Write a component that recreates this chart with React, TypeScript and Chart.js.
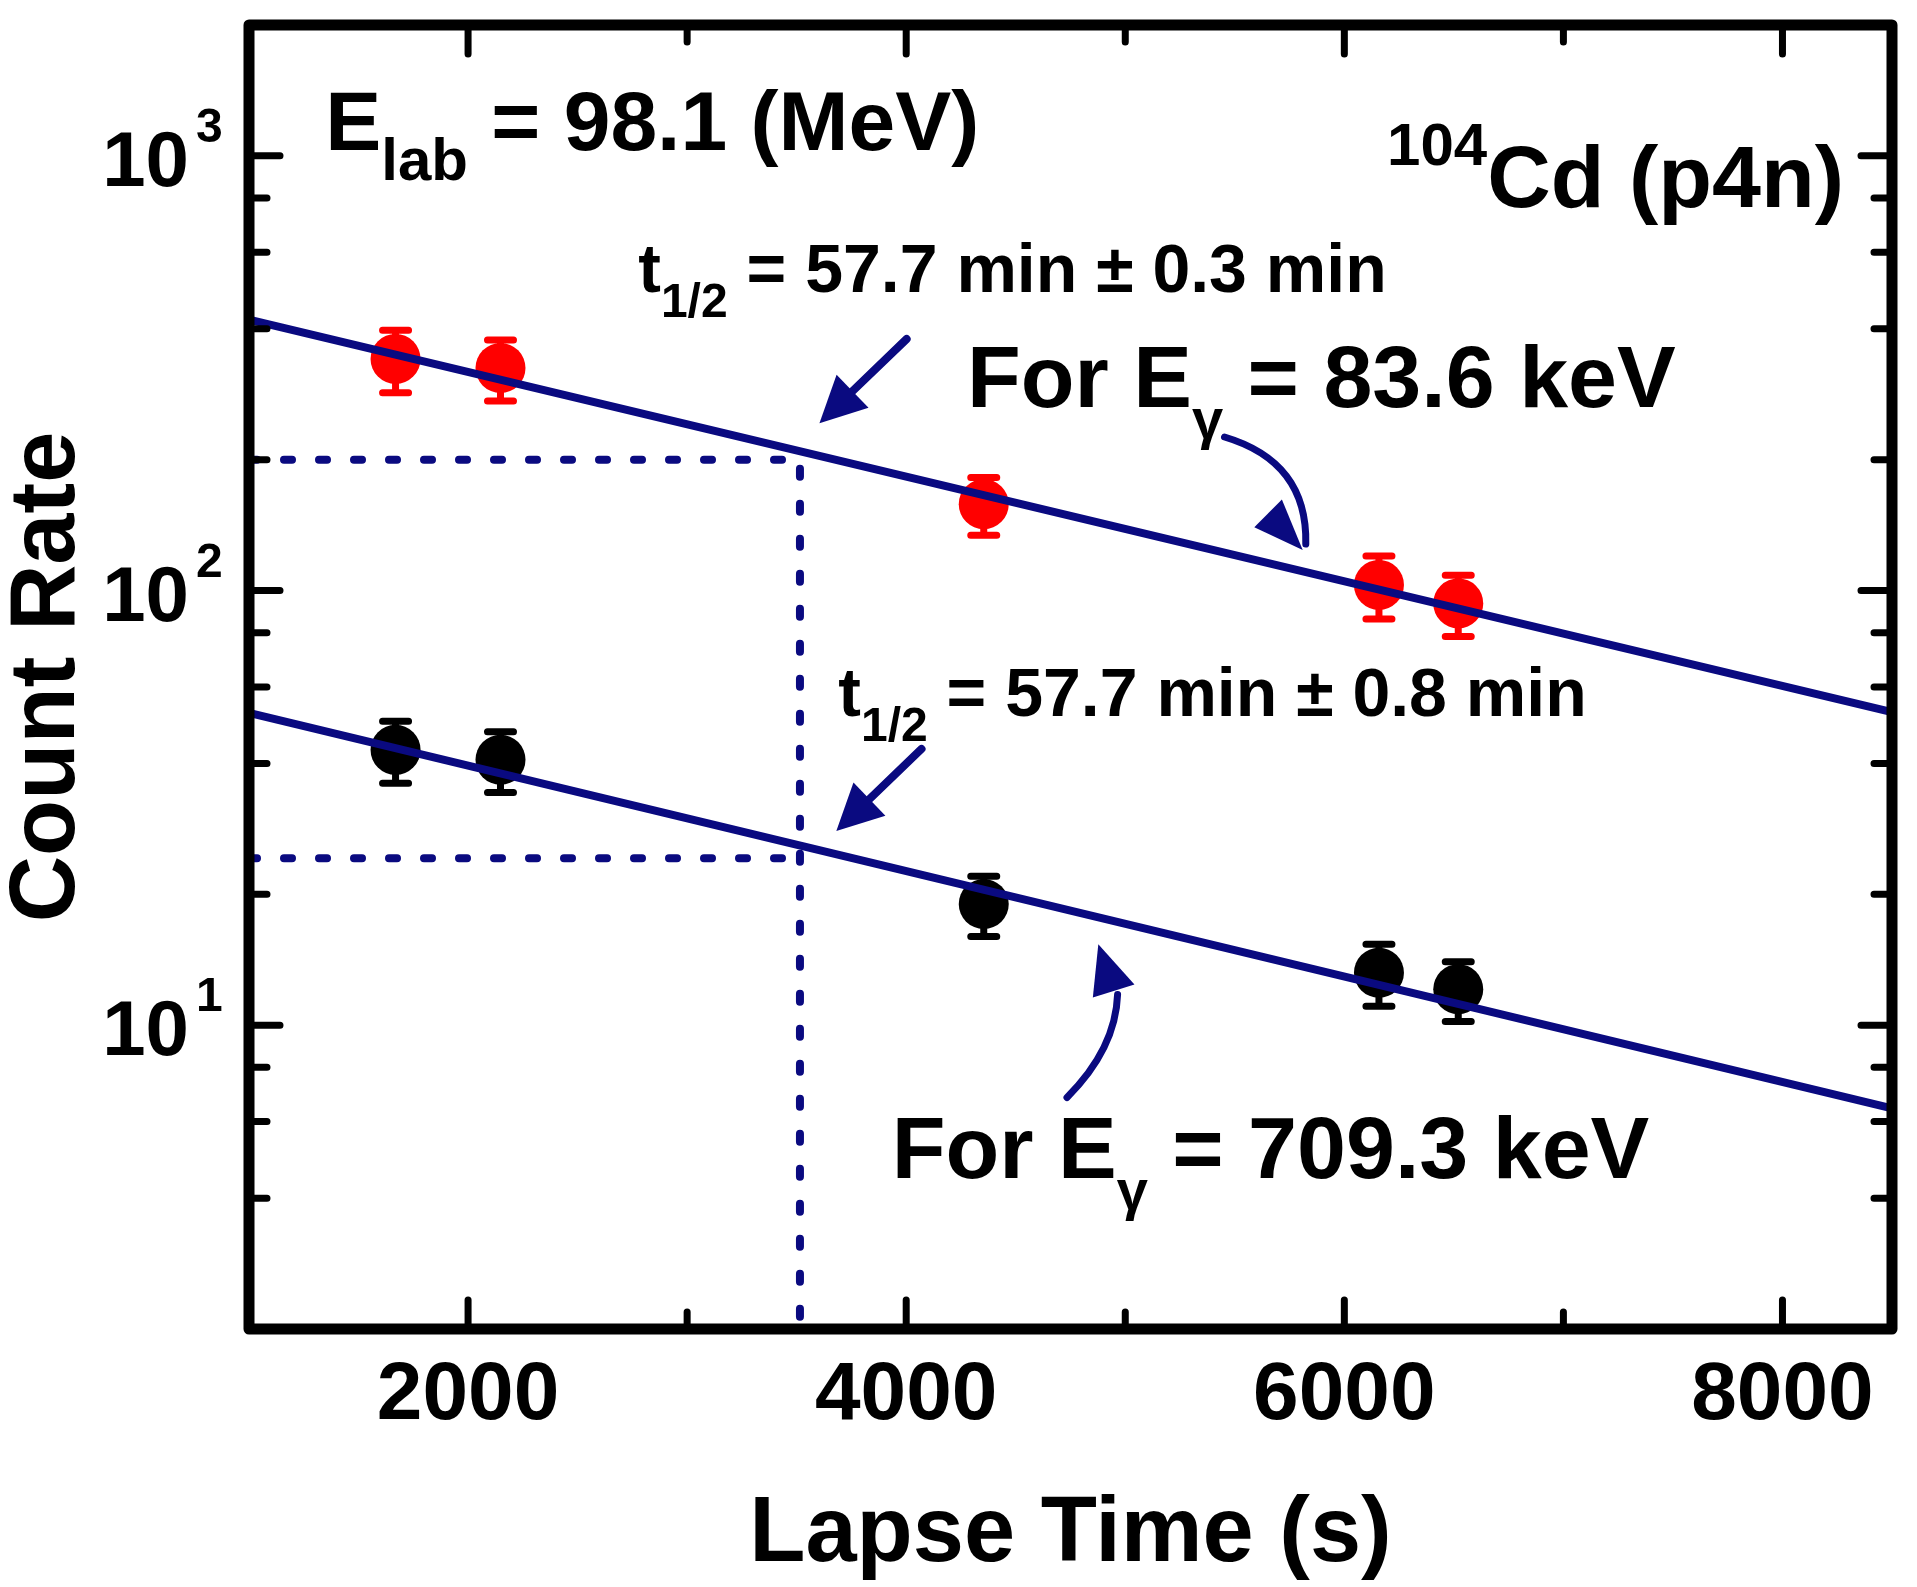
import { useEffect, useRef } from "react";
import { Chart, registerables } from "chart.js";

Chart.register(...registerables);

// lapse time of each measurement (s)
const times = [1669, 2148, 4354, 6158, 6520];
// count rate for E_gamma = 83.6 keV (red) with errors
const rate836 = [341, 325, 158, 103, 93.4];
const err836 = [56, 52, 24, 17, 15];
// count rate for E_gamma = 709.3 keV (black) with errors
const rate709 = [43, 40.8, 19, 13.2, 12.1];
const err709 = [7, 6.5, 3, 2.15, 1.9];

// fitted decay lines (ends at the axis limits)
const fitTimes = [1000, 8500];
const fit836 = [420, 52.5];
const fit709 = [52.3, 6.44];

// half-life guide lines
const halfTime = 3515;
const halfRate836 = 200;
const halfRate709 = 24.2;

const xMin = 1000;
const xMax = 8500;
const yMin = 2;
const yMax = 2000;
const xMajor = [2000, 4000, 6000, 8000];
const xMinor = [3000, 5000, 7000];
const yMajor = [10, 100, 1000];
const yExp = ["1", "2", "3"];
const yMinor = [4, 6, 8, 20, 40, 60, 80, 200, 400, 600, 800];

const W = 1917;
const H = 1587;
const NAVY = "#0a0a80";
const FONT = '"Liberation Sans", Arial, sans-serif';

// annotation arrows, in data coordinates
const straightArrows = [
  { from: [4002, 379], to: [3604, 242.7] },
  { from: [4070, 43.2], to: [3681, 27.96] },
];
const curvedArrows = [
  {
    from: [5453, 225.5],
    ctrl: [5833, 197.8],
    to: [5824, 127.9],
    head: [[5810, 124], [5589, 139.9], [5715, 162]],
  },
  {
    from: [4734, 6.82],
    ctrl: [4956, 8.817],
    to: [4965, 11.77],
    head: [[4877, 15.35], [4852, 11.58], [5042, 12.4]],
  },
];

// text notes: [text, size, baseline shift]
type Part = [string, number, number];
const notes: { x: number; y: number; parts: Part[] }[] = [
  { x: 1348, y: 1032, parts: [["E", 84, 0], ["lab", 60, 30], [" = 98.1 (MeV)", 84, 0]] },
  { x: 6195, y: 761, parts: [["104", 60, -42], ["Cd (p4n)", 88, 0]] },
  { x: 2777, y: 485, parts: [["t", 68, 0], ["1/2", 48, 25], [" = 57.7 min \u00b1 0.3 min", 68, 0]] },
  { x: 4278, y: 264, parts: [["For E", 88, 0], ["\u03b3", 56, 31], [" = 83.6 keV", 88, 0]] },
  { x: 3690, y: 51.4, parts: [["t", 68, 0], ["1/2", 48, 25], [" = 57.7 min \u00b1 0.8 min", 68, 0]] },
  { x: 3934, y: 4.46, parts: [["For E", 88, 0], ["\u03b3", 56, 31], [" = 709.3 keV", 88, 0]] },
];

function drawParts(ctx: CanvasRenderingContext2D, x: number, y: number, parts: Part[]) {
  let cx = x;
  for (const [text, size, dy] of parts) {
    ctx.font = `bold ${size}px ${FONT}`;
    ctx.fillText(text, cx, y + dy);
    cx += ctx.measureText(text).width;
  }
}

const decorPlugin = {
  id: "decor",
  beforeDatasetsDraw(chart: any) {
    const { ctx, scales } = chart;
    const sx = scales.x;
    const sy = scales.y;
    const bars = [
      { v: rate836, e: err836, c: "#ff0000" },
      { v: rate709, e: err709, c: "#000000" },
    ];
    ctx.save();
    ctx.lineWidth = 7;
    ctx.lineCap = "round";
    for (const b of bars) {
      ctx.strokeStyle = b.c;
      times.forEach((t, i) => {
        const px = sx.getPixelForValue(t);
        const top = sy.getPixelForValue(b.v[i] + b.e[i]);
        const bot = sy.getPixelForValue(b.v[i] - b.e[i]);
        ctx.beginPath();
        ctx.moveTo(px, top);
        ctx.lineTo(px, bot);
        ctx.moveTo(px - 13, top);
        ctx.lineTo(px + 13, top);
        ctx.moveTo(px - 13, bot);
        ctx.lineTo(px + 13, bot);
        ctx.stroke();
      });
    }
    ctx.restore();
  },
  afterDatasetsDraw(chart: any) {
    const { ctx, scales } = chart;
    const P = (p: number[]) => [scales.x.getPixelForValue(p[0]), scales.y.getPixelForValue(p[1])];
    ctx.save();
    ctx.strokeStyle = NAVY;
    ctx.fillStyle = NAVY;
    ctx.lineCap = "round";
    ctx.lineJoin = "round";
    for (const a of straightArrows) {
      const [x0, y0] = P(a.from);
      const [x1, y1] = P(a.to);
      const len = Math.hypot(x1 - x0, y1 - y0);
      const ux = (x1 - x0) / len;
      const uy = (y1 - y0) / len;
      const hl = 46;
      const hw = 23;
      const bx = x1 - ux * hl;
      const by = y1 - uy * hl;
      ctx.lineWidth = 8;
      ctx.beginPath();
      ctx.moveTo(x0, y0);
      ctx.lineTo(bx + ux * 4, by + uy * 4);
      ctx.stroke();
      ctx.beginPath();
      ctx.moveTo(x1, y1);
      ctx.lineTo(bx - uy * hw, by + ux * hw);
      ctx.lineTo(bx + uy * hw, by - ux * hw);
      ctx.closePath();
      ctx.fill();
    }
    for (const a of curvedArrows) {
      const [x0, y0] = P(a.from);
      const [cx, cy] = P(a.ctrl);
      const [x1, y1] = P(a.to);
      ctx.lineWidth = 7;
      ctx.beginPath();
      ctx.moveTo(x0, y0);
      ctx.quadraticCurveTo(cx, cy, x1, y1);
      ctx.stroke();
      const h = a.head.map(P);
      ctx.beginPath();
      ctx.moveTo(h[0][0], h[0][1]);
      ctx.lineTo(h[1][0], h[1][1]);
      ctx.lineTo(h[2][0], h[2][1]);
      ctx.closePath();
      ctx.fill();
    }
    ctx.restore();
  },
  afterDraw(chart: any) {
    const { ctx, scales, chartArea } = chart;
    const { left, right, top, bottom } = chartArea;
    const sx = scales.x;
    const sy = scales.y;
    ctx.save();
    ctx.strokeStyle = "#000";
    ctx.fillStyle = "#000";
    // ticks (inward, on all four sides)
    ctx.lineWidth = 7;
    ctx.lineCap = "round";
    const xt = (v: number, len: number) => {
      const px = sx.getPixelForValue(v);
      ctx.beginPath();
      ctx.moveTo(px, bottom);
      ctx.lineTo(px, bottom - len);
      ctx.moveTo(px, top);
      ctx.lineTo(px, top + len);
      ctx.stroke();
    };
    const yt = (v: number, len: number) => {
      const py = sy.getPixelForValue(v);
      ctx.beginPath();
      ctx.moveTo(left, py);
      ctx.lineTo(left + len, py);
      ctx.moveTo(right, py);
      ctx.lineTo(right - len, py);
      ctx.stroke();
    };
    xMajor.forEach((v) => xt(v, 29));
    xMinor.forEach((v) => xt(v, 17));
    yMajor.forEach((v) => yt(v, 31));
    yMinor.forEach((v) => yt(v, 18));
    // frame
    ctx.lineWidth = 11;
    ctx.lineJoin = "round";
    ctx.strokeRect(left, top, right - left, bottom - top);

    // tick labels
    ctx.textBaseline = "alphabetic";
    ctx.textAlign = "center";
    ctx.font = `bold 82px ${FONT}`;
    xMajor.forEach((v) => ctx.fillText(String(v), sx.getPixelForValue(v), bottom + 90));
    yMajor.forEach((v, i) => {
      const py = sy.getPixelForValue(v);
      ctx.textAlign = "right";
      ctx.font = `bold 78px ${FONT}`;
      ctx.fillText("10", left - 60, py + 30);
      ctx.textAlign = "left";
      ctx.font = `bold 48px ${FONT}`;
      ctx.fillText(yExp[i], left - 53, py - 14);
    });

    // axis titles
    ctx.textAlign = "center";
    ctx.font = `bold 92px ${FONT}`;
    ctx.fillText("Lapse Time (s)", (left + right) / 2, 1561);
    ctx.save();
    ctx.translate(74, (top + bottom) / 2);
    ctx.rotate(-Math.PI / 2);
    ctx.fillText("Count Rate", 0, 0);
    ctx.restore();

    // notes
    ctx.textAlign = "left";
    for (const n of notes) {
      drawParts(ctx, sx.getPixelForValue(n.x), sy.getPixelForValue(n.y), n.parts);
    }
    ctx.restore();
  },
};

export default function App() {
  const canvasRef = useRef<HTMLCanvasElement | null>(null);

  useEffect(() => {
    if (!canvasRef.current) return;
    document.body.style.margin = "0";
    document.body.style.overflow = "hidden";
    const pts = (ys: number[]) => times.map((t, i) => ({ x: t, y: ys[i] }));
    const fit = (ys: number[]) => fitTimes.map((t, i) => ({ x: t, y: ys[i] }));

    const chart = new Chart(canvasRef.current, {
      type: "scatter",
      data: {
        datasets: [
          {
            label: "fit 83.6 keV",
            data: fit(fit836),
            showLine: true,
            borderColor: NAVY,
            borderWidth: 8,
            pointRadius: 0,
            order: 0,
          },
          {
            label: "fit 709.3 keV",
            data: fit(fit709),
            showLine: true,
            borderColor: NAVY,
            borderWidth: 8,
            pointRadius: 0,
            order: 0,
          },
          {
            label: "83.6 keV",
            data: pts(rate836),
            pointRadius: 25,
            pointBorderWidth: 0,
            pointBackgroundColor: "#ff0000",
            borderColor: "#ff0000",
            order: 1,
          },
          {
            label: "709.3 keV",
            data: pts(rate709),
            pointRadius: 25,
            pointBorderWidth: 0,
            pointBackgroundColor: "#000000",
            borderColor: "#000000",
            order: 1,
          },
          {
            label: "half-life 83.6",
            data: [
              { x: xMin, y: halfRate836 },
              { x: halfTime, y: halfRate836 },
              { x: halfTime, y: yMin },
            ],
            showLine: true,
            borderColor: NAVY,
            borderWidth: 8,
            borderDash: [8, 27],
            borderCapStyle: "round",
            pointRadius: 0,
            order: 2,
          },
          {
            label: "half-life 709.3",
            data: [
              { x: xMin, y: halfRate709 },
              { x: halfTime, y: halfRate709 },
            ],
            showLine: true,
            borderColor: NAVY,
            borderWidth: 8,
            borderDash: [8, 27],
            borderCapStyle: "round",
            pointRadius: 0,
            order: 2,
          },
        ],
      },
      options: {
        animation: false,
        responsive: false,
        devicePixelRatio: 1,
        events: [],
        layout: { padding: { left: 249, right: 10, top: 10, bottom: 258 } },
        plugins: { legend: { display: false }, tooltip: { enabled: false } },
        scales: {
          x: { type: "linear", min: xMin, max: xMax, display: false },
          y: { type: "logarithmic", min: yMin, max: yMax, display: false },
        },
      } as any,
      plugins: [decorPlugin],
    });

    return () => {
      chart.destroy();
    };
  }, []);

  return (
    <div style={{ position: "fixed", left: 0, top: 0, width: W, height: H, background: "#fff" }}>
      <canvas ref={canvasRef} width={W} height={H} style={{ display: "block", width: W, height: H }}></canvas>
    </div>
  );
}
